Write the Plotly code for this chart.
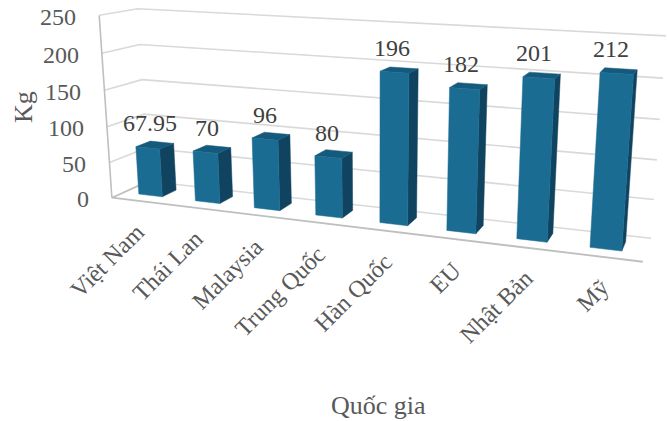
import numpy as np
import plotly.graph_objects as go

# Chart data
countries = ["Việt Nam", "Thái Lan", "Malaysia", "Trung Quốc", "Hàn Quốc", "EU", "Nhật Bản", "Mỹ"]
kg = [67.95, 70, 96, 80, 196, 182, 201, 212]
value_labels = ["67.95", "70", "96", "80", "196", "182", "201", "212"]
value_ticks = [0, 50, 100, 150, 200, 250]
VALUE_MAX = 250

# Chart box corners as (along, depth, height) and where they land on the canvas
box_corners = [(0, 0, 0), (0, 0, 1), (0, 1, 1), (0, 1, 0), (1, 1, 1), (1, 1, 0), (1, 0, 0)]
canvas_corners = [(112, 196), (99, 16), (138, 8), (148, 183), (666, 36), (651, 237), (643, 263)]

BAR_WIDTH = 0.42
DEPTH_FRONT = 0.32
DEPTH_BACK = 0.72
BAR_SHIFT = -0.02

FRONT = "#1b6c93"
SIDE = "#10435f"
TOP = "#155a7c"
GRID = "#d9d9d9"
AXIS = "#bfbfbf"
TEXT = "#595959"
FONT = "Liberation Serif"


def solve_camera(src, dst):
    rows = []
    for (a, b, c), (u, v) in zip(src, dst):
        rows.append([a, b, c, 1, 0, 0, 0, 0, -u * a, -u * b, -u * c, -u])
        rows.append([0, 0, 0, 0, a, b, c, 1, -v * a, -v * b, -v * c, -v])
    return np.linalg.svd(np.array(rows, float))[2][-1].reshape(3, 4)


CAMERA = solve_camera(box_corners, canvas_corners)


def project(along, depth, height):
    u, v, w = CAMERA @ np.array([along, depth, height, 1.0])
    return u / w, v / w


def polyline(points, color, width):
    xy = [project(*p) for p in points]
    return go.Scatter(x=[p[0] for p in xy], y=[p[1] for p in xy], mode="lines",
                      line=dict(color=color, width=width), hoverinfo="skip", showlegend=False)


def face(points, color):
    xy = [project(*p) for p in points]
    return go.Scatter(x=[p[0] for p in xy] + [xy[0][0]], y=[p[1] for p in xy] + [xy[0][1]],
                      mode="lines", fill="toself", fillcolor=color,
                      line=dict(color=color, width=0.5), hoverinfo="skip", showlegend=False)


fig = go.Figure()

# Walls and floor
for tick in value_ticks[1:]:
    h = tick / VALUE_MAX
    fig.add_trace(polyline([(0, 0, h), (0, 1, h), (1, 1, h)], GRID, 1.6))
fig.add_trace(polyline([(0, 1, 0), (1, 1, 0)], GRID, 1.6))
fig.add_trace(polyline([(0, 0, 1), (0, 0, 0)], AXIS, 1.6))
fig.add_trace(polyline([(0, 1, 0), (0, 0, 0), (1, 0, 0)], AXIS, 1.8))

# Bars, one slot per country
slot = 1 / len(countries)
annotations = []
for i, (name, value, label) in enumerate(zip(countries, kg, value_labels)):
    mid = (i + 0.5 + BAR_SHIFT) * slot
    x0, x1 = mid - BAR_WIDTH * slot / 2, mid + BAR_WIDTH * slot / 2
    d0, d1 = DEPTH_FRONT, DEPTH_BACK
    h = value / VALUE_MAX
    fig.add_trace(face([(x1, d0, 0), (x1, d1, 0), (x1, d1, h), (x1, d0, h)], SIDE))
    fig.add_trace(face([(x0, d0, h), (x1, d0, h), (x1, d1, h), (x0, d1, h)], TOP))
    fig.add_trace(face([(x0, d0, 0), (x1, d0, 0), (x1, d0, h), (x0, d0, h)], FRONT))

    lx, ly = project(mid, d0, h)
    annotations.append(dict(x=lx + 3 - 9 * mid, y=ly - 24.5, text=label, showarrow=False,
                            xanchor="center", yanchor="middle",
                            font=dict(family=FONT, size=24, color="#404040")))
    tx, ty = project((i + 0.5) * slot, 0, 0)
    annotations.append(dict(x=tx + 12, y=ty + 15, text=name, showarrow=False, textangle=-45,
                            xanchor="right", yanchor="top",
                            font=dict(family=FONT, size=24, color=TEXT)))

# Value axis labels follow the front-left edge
for tick in value_ticks:
    px, py = project(0, 0, tick / VALUE_MAX)
    annotations.append(dict(x=px - 21, y=py + 1.5, text=str(tick), showarrow=False,
                            xanchor="right", yanchor="middle",
                            font=dict(family=FONT, size=24, color=TEXT)))

annotations.append(dict(x=23, y=107, text="Kg", showarrow=False, textangle=-90,
                        font=dict(family=FONT, size=26, color=TEXT)))
annotations.append(dict(x=378, y=405, text="Quốc gia", showarrow=False,
                        font=dict(family=FONT, size=26, color=TEXT)))

fig.update_layout(
    width=667, height=421, margin=dict(l=0, r=0, t=0, b=0),
    paper_bgcolor="white", plot_bgcolor="white", showlegend=False,
    xaxis=dict(range=[0, 667], visible=False, fixedrange=True),
    yaxis=dict(range=[421, 0], visible=False, fixedrange=True),
    annotations=annotations,
)
fig.write_html("out.html")
